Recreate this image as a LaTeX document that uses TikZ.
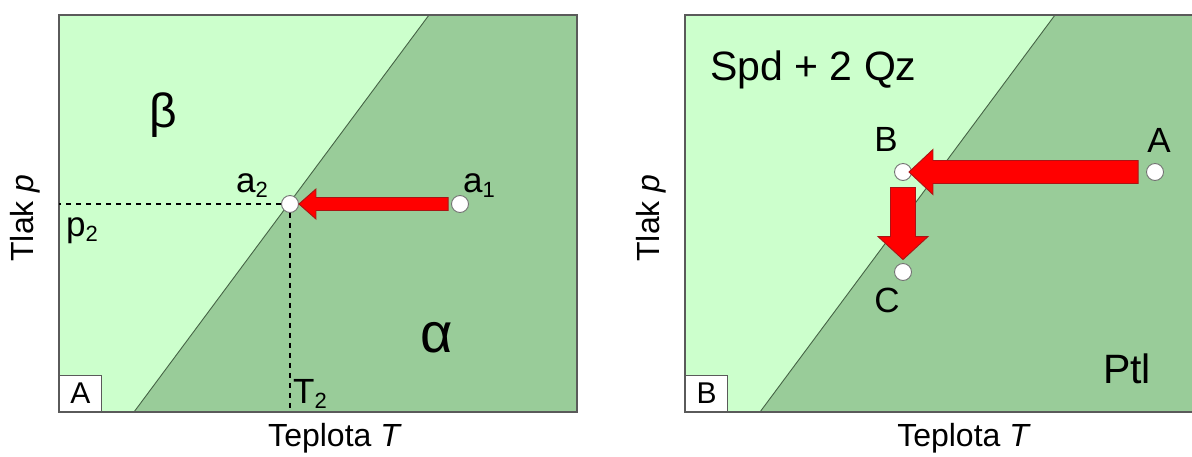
\documentclass[tikz,border=0pt]{standalone}
\usepackage{fontspec}
\setmainfont{Liberation Sans}
\usetikzlibrary{calc}
\definecolor{phlight}{RGB}{204,255,204}
\definecolor{phdark}{RGB}{153,204,153}
\definecolor{phline}{RGB}{70,100,70}
\definecolor{frgray}{RGB}{90,90,90}
\definecolor{arred}{RGB}{255,0,0}
\definecolor{arrim}{RGB}{170,20,20}
\newcommand\lowsub[1]{\raisebox{-0.3ex}{\fontsize{22}{26}\selectfont#1}}
\tikzset{
  frame/.style={draw=frgray,line width=1.2pt},
  phase/.style={draw=phline,line width=0.9pt},
  guide/.style={draw=black,line width=2.2pt,dash pattern=on 5pt off 5pt},
  state/.style={circle,draw=black!55,fill=white,line width=0.9pt,minimum size=17pt,inner sep=0pt},
  blockarrow/.style={fill=arred,draw=arrim,line width=0.9pt,line join=miter},
  tag/.style={draw=frgray,fill=white,line width=1pt,minimum width=42pt,minimum height=36pt,inner sep=0pt,font=\fontsize{30}{36}\selectfont},
  lbl/.style={inner sep=0pt,font=\fontsize{35}{42}\selectfont},
  axislbl/.style={inner sep=0pt,font=\fontsize{32}{38}\selectfont},
  greek/.style={inner sep=0pt,font=\fontsize{48}{56}\selectfont},
  field/.style={inner sep=0pt,font=\fontsize{41}{49}\selectfont},
}
\begin{document}
\begin{tikzpicture}[x=1pt,y=-1pt]
  \useasboundingbox (0,0) rectangle (1192,456);
  \clip (0,0) rectangle (1192,456);

  % panel A
  \coordinate (cornerA) at (59,412);
  \fill[phlight] (59,15) rectangle (577,412);
  \fill[phdark] (134,412) -- (429,15) -- (577,15) -- (577,412) -- cycle;
  \draw[phase] (134,412) -- (429,15);
  \draw[frame] (59,15) rectangle (577,412);
  \node[tag,anchor=south west] (tagA) at (cornerA) {A};

  \node[state] (a2) at (290,204) {};
  \node[state] (a1) at (460,204) {};
  \draw[guide] (a2.west) -- (a2 -| cornerA);
  \draw[guide] (a2.south) -- (a2 |- cornerA);
  \filldraw[blockarrow] ($(a1.west)+(-3,-6.5)$) -- ($(a2.east)+(17,-6.5)$) -- ($(a2.east)+(17,-15)$)
    -- (a2.east) -- ($(a2.east)+(17,15)$) -- ($(a2.east)+(17,6.5)$) -- ($(a1.west)+(-3,6.5)$) -- cycle;

  \node[lbl,anchor=base west] (a2lbl) at (236,192) {a\lowsub{2}};
  \node[lbl,anchor=base west] (a1lbl) at (463,192) {a\lowsub{1}};
  \node[lbl,anchor=base west] (p2lbl) at (66,236) {p\lowsub{2}};
  \node[lbl,anchor=base west] (T2lbl) at (293,403) {T\lowsub{2}};
  \node[greek,anchor=base] (beta) at (163,127) {β};
  \node[greek,anchor=base,font=\fontsize{56}{64}\selectfont] (alpha) at (437,352) {α};
  \node[axislbl,rotate=90] (tlakA) at (25,218) {Tlak \textit{p}};
  \node[axislbl,anchor=base] (teplA) at (335,446) {Teplota \textit{T}};

  % panel B
  \coordinate (cornerB) at (685,412);
  \fill[phlight] (685,15) rectangle (1203,412);
  \fill[phdark] (760,412) -- (1055,15) -- (1203,15) -- (1203,412) -- cycle;
  \draw[phase] (760,412) -- (1055,15);
  \draw[frame] (685,15) rectangle (1203,412);
  \node[tag,anchor=south west] (tagB) at (cornerB) {B};

  \node[state] (B) at (903,172) {};
  \node[state] (A) at (1155,172) {};
  \node[state] (C) at (903,272) {};
  \filldraw[blockarrow] ($(A.west)+(-8,-11.5)$) -- ($(B.east)+(21,-11.5)$) -- ($(B.east)+(21,-22.5)$)
    -- ($(B.east)+(-3,0)$) -- ($(B.east)+(21,22.5)$) -- ($(B.east)+(21,11.5)$) -- ($(A.west)+(-8,11.5)$) -- cycle;
  \filldraw[blockarrow] ($(B.south)+(-12.5,6.5)$) -- ($(C.north)+(-12.5,-26.5)$) -- ($(C.north)+(-25,-26.5)$)
    -- ($(C.north)+(0,-3.5)$) -- ($(C.north)+(25,-26.5)$) -- ($(C.north)+(12.5,-26.5)$) -- ($(B.south)+(12.5,6.5)$) -- cycle;

  \node[lbl,anchor=base] (Blbl) at (886,151) {B};
  \node[lbl,anchor=base] (Albl) at (1159,152) {A};
  \node[lbl,anchor=base] (Clbl) at (887,312) {C};
  \node[field,anchor=base west] (spd) at (710,80) {Spd + 2 Qz};
  \node[field,anchor=base west] (ptl) at (1103,383) {Ptl};
  \node[axislbl,rotate=90] (tlakB) at (651,218) {Tlak \textit{p}};
  \node[axislbl,anchor=base] (teplB) at (964,446) {Teplota \textit{T}};
\end{tikzpicture}
\end{document}
